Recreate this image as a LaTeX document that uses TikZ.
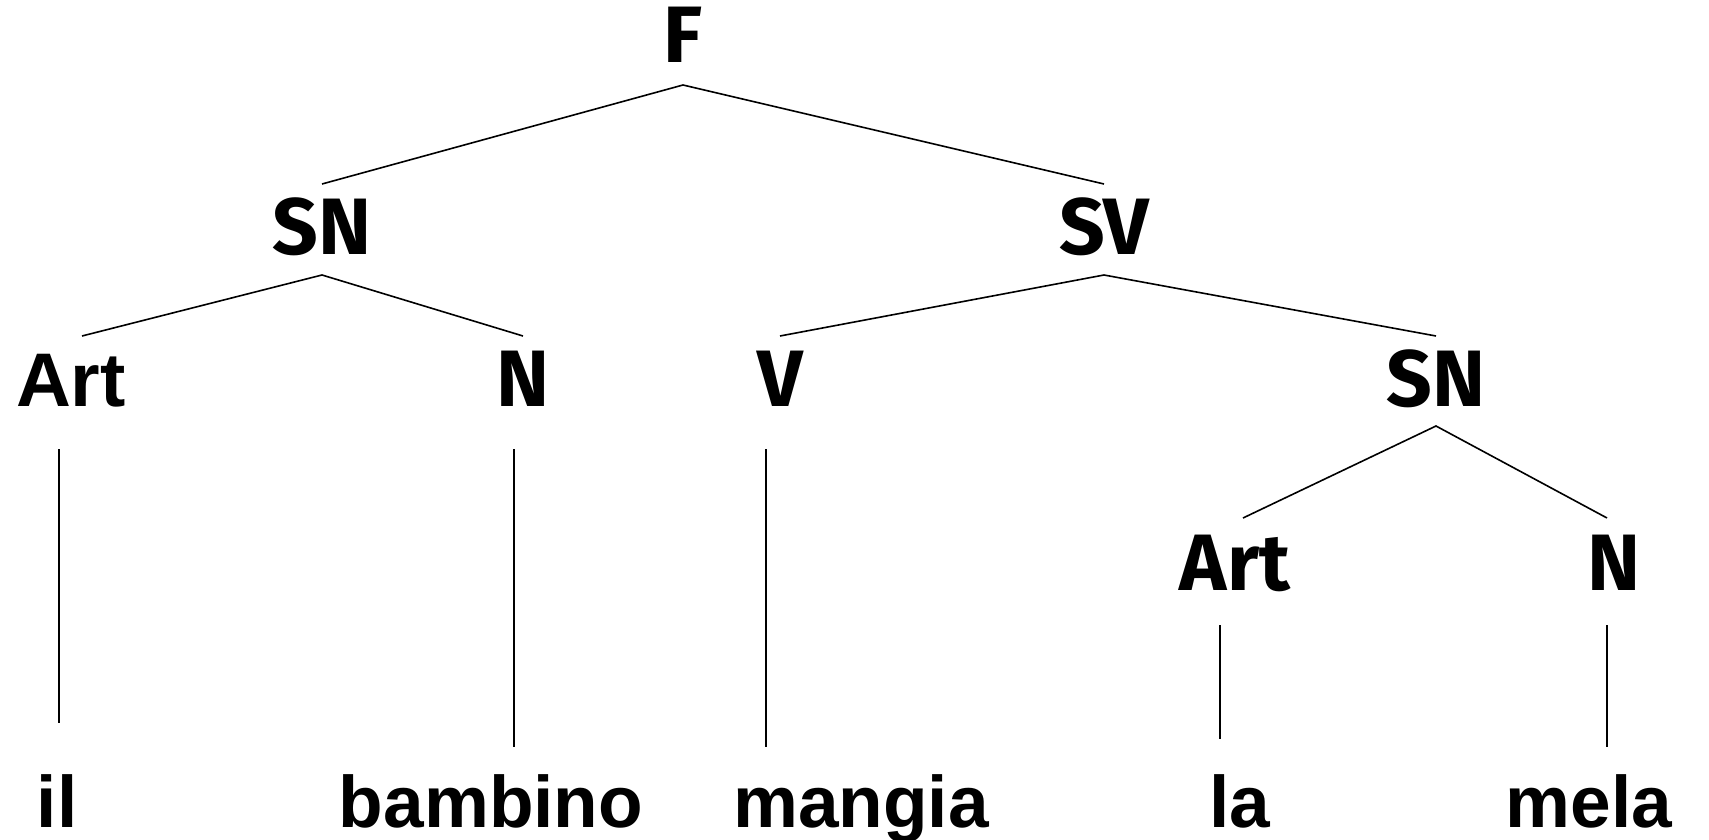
\documentclass[tikz,border=0pt]{standalone}
\usepackage{fontspec}
\setmainfont{Liberation Sans}
\newfontfamily\comicf{Fira Sans}
\begin{document}
\begin{tikzpicture}[x=1pt,y=-1pt,
  lab/.style={anchor=base,inner sep=0pt,font=\comicf\bfseries\fontsize{80}{90}\selectfont},
  arial/.style={anchor=base,inner sep=0pt,font=\bfseries\fontsize{76}{90}\selectfont},
  word/.style={anchor=base,inner sep=0pt,font=\bfseries\fontsize{73}{88}\selectfont},
  branch/.style={line width=1.6pt},
  stem/.style={line width=1.1pt}]
\useasboundingbox (0,0) rectangle (1709,840);
% labels
\node[lab] (F) at (683,63) {F};
\node[lab] (SN) at (322,254) {SN};
\node[lab] (SV) at (1104,254) {SV};
\node[arial] (Art) at (71,406) {Art};
\node[lab] (N) at (523,406) {N};
\node[lab] (V) at (780,406) {V};
\node[lab] (SNb) at (1436,406) {SN};
\node[lab] (Artb) at (1235,590) {Art};
\node[lab] (Nb) at (1614,590) {N};
% words
\node[word] (il) at (57,827) {il};
\node[word] (bambino) at (491,827) {bambino};
\node[word] (mangia) at (861,827) {mangia};
\node[word] (la) at (1240,827) {la};
\node[word] (mela) at (1589,827) {mela};
% branches
\draw[branch] ([yshift=70pt]SN.base) -- ([yshift=-22pt]F.base) -- ([yshift=70pt]SV.base);
\draw[branch] ([xshift=11pt,yshift=70pt]Art.base) -- ([yshift=-21pt]SN.base) -- ([yshift=70pt]N.base);
\draw[branch] ([yshift=70pt]V.base) -- ([yshift=-21pt]SV.base) -- ([yshift=70pt]SNb.base);
\draw[branch] ([xshift=8pt,yshift=72pt]Artb.base) -- ([yshift=-20pt]SNb.base) -- ([xshift=-7pt,yshift=72pt]Nb.base);
% stems
\draw[stem] ([xshift=2pt,yshift=-43pt]Art.base -| il.base) -- ([xshift=2pt,yshift=104pt]il.base);
\draw[stem] ([xshift=-9pt,yshift=-43pt]N.base) -- ([xshift=-9pt,yshift=80pt]N.base |- bambino.base);
\draw[stem] ([xshift=-14pt,yshift=-43pt]V.base) -- ([xshift=-14pt,yshift=80pt]V.base |- mangia.base);
\draw[stem] ([xshift=-15pt,yshift=-35pt]Artb.base) -- ([xshift=-15pt,yshift=88pt]Artb.base |- la.base);
\draw[stem] ([xshift=-7pt,yshift=-35pt]Nb.base) -- ([xshift=-7pt,yshift=80pt]Nb.base |- mela.base);
\end{tikzpicture}
\end{document}
